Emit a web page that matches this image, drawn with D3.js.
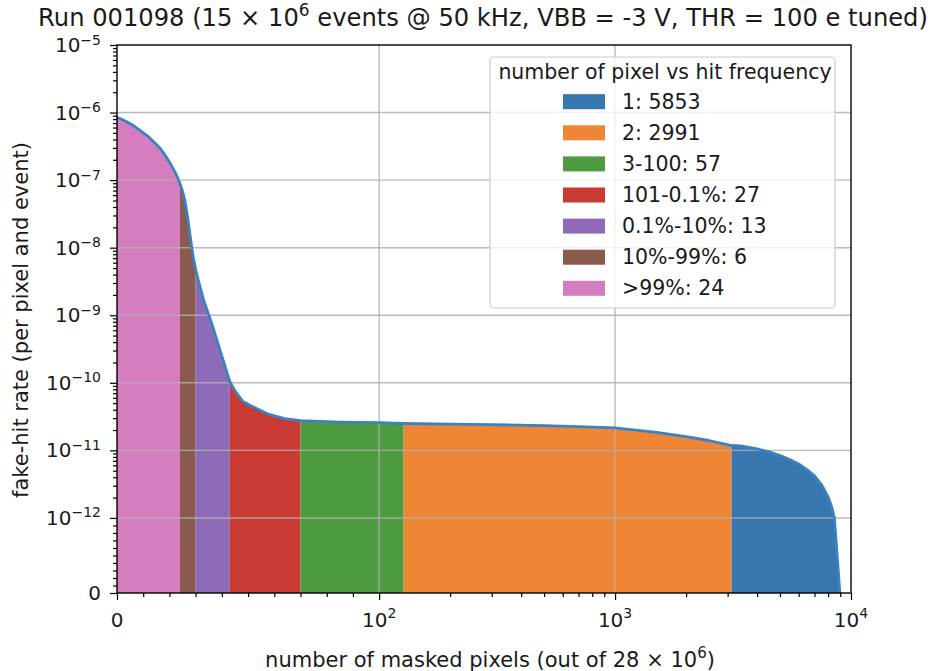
<!DOCTYPE html>
<html><head><meta charset="utf-8">
<script src="https://cdn.jsdelivr.net/npm/d3@7"></script>
<style>
body{margin:0;background:#fff;}
svg text{font-family:"DejaVu Sans",sans-serif;fill:#1a1a1a;}
</style></head>
<body><svg id="c" width="936" height="671"></svg>
<script>
// ---- data ----
const maskedPixels = [0,2,4,6,8,10,12,14,16,18,20,22,23,24,25,26,27,28,29,30,31,33,36,39,43,45,48,52,58,64,70,85,100,127,200,300,500,700,1000,1500,2000,2500,3118,3500,4000,4500,5000,5500,6000,6500,7000,7500,8000,8300,8500,8700,8850,8971];
const fakeHitRate = [8.5e-7,7.9e-7,7.2e-7,6.5e-7,5.75e-7,5.0e-7,4.4e-7,3.7e-7,3.1e-7,2.45e-7,1.86e-7,1.35e-7,1.12e-7,8.9e-8,6.8e-8,4.8e-8,2.7e-8,1.4e-8,7.5e-9,4.8e-9,3.3e-9,1.7e-9,7.8e-10,3.3e-10,1.05e-10,7.6e-11,5.3e-11,4.4e-11,3.4e-11,2.95e-11,2.75e-11,2.62e-11,2.57e-11,2.5e-11,2.45e-11,2.4e-11,2.33e-11,2.25e-11,2.15e-11,1.85e-11,1.6e-11,1.4e-11,1.18e-11,1.15e-11,1.05e-11,9.5e-12,8.4e-12,7.3e-12,6.3e-12,5.2e-12,4.2e-12,3.1e-12,2.05e-12,1.42e-12,1.0e-12,0.58e-12,0.26e-12,0];
// groups in order along x (left to right)
const groupNames  = [">99%","10%-99%","0.1%-10%","101-0.1%","3-100","2","1"];
const groupCounts = [24,6,13,27,57,2991,5853];
const groupColors = ["#d67dbf","#8a5a4d","#8e6bb8","#c93a33","#4f9b40","#ee8636","#3776ae"];
// legend order
const legendOrder = [6,5,4,3,2,1,0];
const xMajorTicks = [0,100,1000,10000];
const xMajorExp = [null,2,3,4];
const yMajorTicks = [0,1e-12,1e-11,1e-10,1e-9,1e-8,1e-7,1e-6,1e-5];
const yMajorExp = [null,-12,-11,-10,-9,-8,-7,-6,-5];

// ---- symlog (matplotlib style) ----
function symlog(v,t){const adj=1/(1-1/10);const a=Math.abs(v);if(a<=t)return v/t*adj;return Math.sign(v)*(adj+Math.log10(a/t));}
const XT=100, YT=1e-12;
const L=117,R=851,T=45,B=593;
const xLin=d3.scaleLinear().domain([0,symlog(1e4,XT)]).range([L,R]);
const yLin=d3.scaleLinear().domain([0,symlog(1e-5,YT)]).range([B,T]);
const x=v=>xLin(symlog(v,XT));
const y=v=>yLin(symlog(v,YT));

// minor ticks
const xMinor=[],yMinor=[];
for(let i=1;i<10;i++)xMinor.push(i*10);
for(let d of [100,1000])for(let i=2;i<10;i++)xMinor.push(i*d);
for(let i=1;i<10;i++)yMinor.push(i*1e-13);
for(let e=-12;e<-5;e++)for(let i=2;i<10;i++)yMinor.push(i*Math.pow(10,e));

const svg=d3.select("#c");
const pts=maskedPixels.map((m,i)=>[m,fakeHitRate[i]]);

// fills
let start=0;
const area=d3.area().x(d=>x(d[0])).y0(y(0)).y1(d=>y(d[1]));
groupCounts.forEach((c,i)=>{
  const end=start+c;
  const seg=pts.filter(p=>p[0]>=start&&p[0]<=end);
  svg.append("path").attr("d",area(seg)).attr("fill",groupColors[i]);
  start=end;
});

// grid
const g=svg.append("g");
xMajorTicks.slice(1,3).forEach(v=>g.append("line").attr("x1",x(v)).attr("x2",x(v)).attr("y1",T).attr("y2",B).attr("stroke","#b0b0b0").attr("stroke-width",1.4).attr("opacity",0.85));
yMajorTicks.slice(1,8).forEach(v=>g.append("line").attr("y1",y(v)).attr("y2",y(v)).attr("x1",L).attr("x2",R).attr("stroke","#b0b0b0").attr("stroke-width",1.4).attr("opacity",0.85));

// curve
svg.append("path").attr("d",d3.line().x(d=>x(d[0])).y(d=>y(d[1]))(pts)).attr("fill","none").attr("stroke","#3a82c2").attr("stroke-width",2.8).attr("stroke-linejoin","round");

// axes
const fs=20, ss=14;
svg.append("g").attr("transform",`translate(0,${B})`)
  .call(d3.axisBottom(xLin).tickValues(xMajorTicks.map(v=>symlog(v,XT))).tickSize(7).tickFormat(""));
svg.append("g").attr("transform",`translate(0,${B})`)
  .call(d3.axisBottom(xLin).tickValues(xMinor.map(v=>symlog(v,XT))).tickSize(4).tickFormat(""));
svg.append("g").attr("transform",`translate(${L},0)`)
  .call(d3.axisLeft(yLin).tickValues(yMajorTicks.map(v=>symlog(v,YT))).tickSize(7).tickFormat(""));
svg.append("g").attr("transform",`translate(${L},0)`)
  .call(d3.axisLeft(yLin).tickValues(yMinor.map(v=>symlog(v,YT))).tickSize(4).tickFormat(""));
svg.selectAll(".domain").remove();
svg.selectAll(".tick line").attr("stroke","#000").attr("stroke-width",1.2);

// tick labels
xMajorTicks.forEach((v,i)=>{
  const t=svg.append("text").attr("x",x(v)).attr("y",B+34).attr("text-anchor","middle").attr("font-size",fs);
  if(xMajorExp[i]===null){t.text("0");}
  else{t.append("tspan").text("10");t.append("tspan").attr("dy",-9).attr("font-size",ss).text(xMajorExp[i]);}
});
yMajorTicks.forEach((v,i)=>{
  const t=svg.append("text").attr("x",L-16).attr("y",y(v)+7).attr("text-anchor","end").attr("font-size",fs);
  if(yMajorExp[i]===null){t.text("0");}
  else{t.append("tspan").text("10");t.append("tspan").attr("dy",-7.5).attr("font-size",ss).text("\u2212"+(-yMajorExp[i]));}
});

// frame
svg.append("rect").attr("x",L).attr("y",T).attr("width",R-L).attr("height",B-T).attr("fill","none").attr("stroke","#000").attr("stroke-width",1.4);

// labels
const title=svg.append("text").attr("x",483).attr("y",26).attr("text-anchor","middle").attr("font-size",24.2);
title.append("tspan").text("Run 001098 (15 \u00d7 10");
title.append("tspan").attr("dy",-10).attr("font-size",17).text("6");
title.append("tspan").attr("dy",10).text(" events @ 50 kHz, VBB = -3 V, THR = 100 e tuned)");
const xl=svg.append("text").attr("x",490).attr("y",667).attr("text-anchor","middle").attr("font-size",21);
xl.append("tspan").text("number of masked pixels (out of 28 \u00d7 10");
xl.append("tspan").attr("dy",-9).attr("font-size",15).text("6");
xl.append("tspan").attr("dy",9).text(")");
svg.append("text").attr("transform","translate(28,320) rotate(-90)").attr("text-anchor","middle").attr("font-size",21).text("fake-hit rate (per pixel and event)");

// legend
const lg=svg.append("g");
lg.append("rect").attr("x",490).attr("y",57).attr("width",345).attr("height",251).attr("rx",4).attr("fill","#fff").attr("fill-opacity",0.8).attr("stroke","#cccccc").attr("stroke-width",1.2);
lg.append("text").attr("x",665).attr("y",79).attr("text-anchor","middle").attr("font-size",20.5).text("number of pixel vs hit frequency");
legendOrder.forEach((gi,k)=>{
  const cy=101.7+k*31.1;
  lg.append("rect").attr("x",563).attr("y",cy-7.5).attr("width",42).attr("height",15).attr("fill",groupColors[gi]);
  lg.append("text").attr("x",622).attr("y",cy+7).attr("font-size",20.5).text(groupNames[gi]+": "+groupCounts[gi]);
});
</script></body></html>
